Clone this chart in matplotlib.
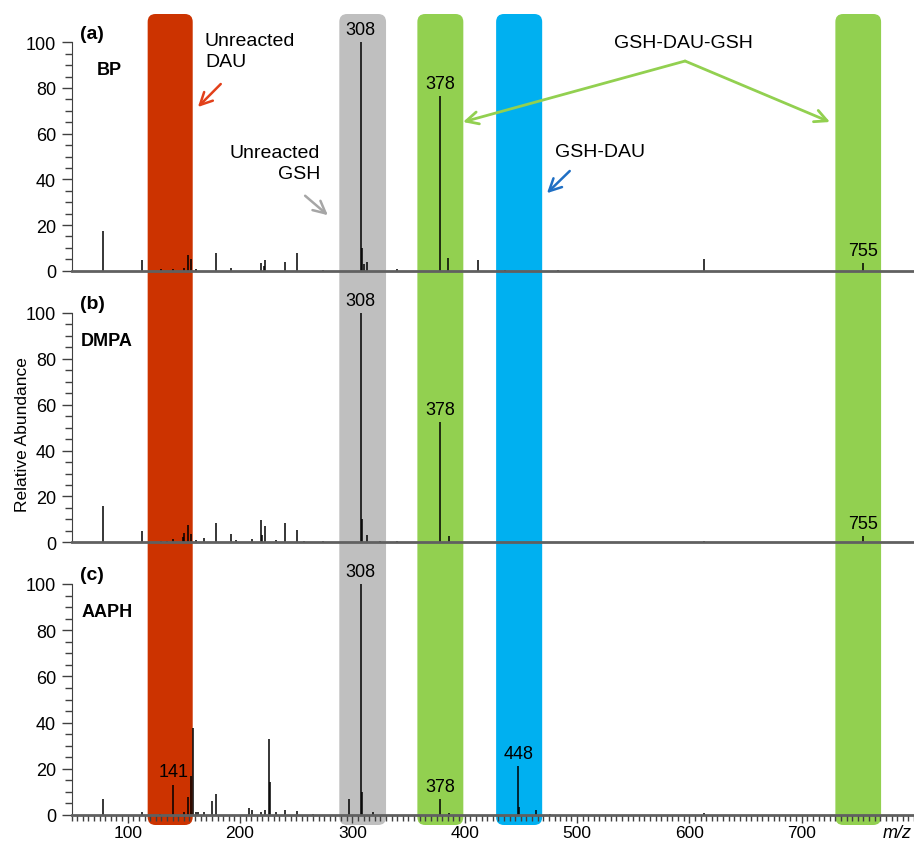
import matplotlib
matplotlib.use("Agg")
import matplotlib.pyplot as plt
from matplotlib.patches import FancyBboxPatch
from matplotlib.ticker import MultipleLocator

plt.rcParams['font.family'] = ['Liberation Sans', 'DejaVu Sans']

# peak lists (m/z, relative abundance)
mz_a = [77.7, 113, 129.6, 140.6, 150, 154, 156, 160.8, 178.4, 192, 218.7, 221, 222.3,
        240, 251, 274, 307.5, 309, 310, 313.4, 339.5, 378.2, 385.5, 411.6, 436, 483, 613, 755]
int_a = [17.5, 4.8, 0.7, 0.7, 1.0, 6.7, 5.3, 0.7, 7.7, 1.0, 3.4, 2.0, 4.8,
         3.9, 7.7, 0.5, 100, 9.8, 3.0, 3.9, 0.7, 76.6, 5.4, 4.7, 0.5, 0.5, 5.0, 3.2]

mz_b = [77.7, 113, 130, 135, 140.6, 149, 150.2, 154, 156, 160.8, 168, 178.4, 192, 196, 211,
        218.7, 220, 222.3, 232, 240, 251, 257, 274, 307.5, 309, 312.8, 324.7, 339.5,
        378.2, 386, 613, 755]
int_b = [15.8, 5.1, 0.5, 0.5, 1.5, 2.3, 4.1, 7.7, 3.6, 1.0, 1.9, 8.2, 3.8, 1.2, 1.5,
         9.9, 3.0, 7.0, 1.0, 8.2, 5.5, 0.7, 0.7, 100, 10.2, 3.0, 0.7, 0.7,
         52.5, 2.6, 0.5, 2.6]

mz_c = [77.7, 113, 128.8, 140.6, 150.2, 153.4, 156, 158, 160.8, 163, 168, 174.8, 178.4,
        208, 210.6, 218.7, 222.3, 225.8, 226.4, 232, 240, 251, 265, 297.4, 307.5, 308.6,
        318.7, 378.3, 386, 447.8, 448.8, 463.3, 476, 613]
int_c = [6.8, 1.2, 0.5, 13.2, 1.5, 8.0, 16.7, 37.5, 1.5, 1.5, 1.5, 6.1, 8.9,
         2.9, 2.0, 1.5, 2.0, 32.9, 14.2, 1.5, 2.2, 1.7, 0.5, 6.9, 100, 10.0,
         1.5, 6.8, 1.0, 21.2, 3.3, 2.2, 0.5, 1.0]

labels_a = ["308", "378", "755"]
label_mz_a = [307.5, 378.2, 755]
labels_b = ["308", "378", "755"]
label_mz_b = [307.5, 378.2, 755]
labels_c = ["141", "308", "378", "448"]
label_mz_c = [140.6, 307.5, 378.3, 447.8]

panel_tags = ["(a)", "(b)", "(c)"]
panel_names = ["BP", "DMPA", "AAPH"]

# highlighted m/z windows
band_lo = [117.8, 288.4, 357.9, 428, 730]
band_hi = [157.9, 330, 398.8, 469, 770.7]
band_colors = ["#CC3300", "#BFBFBF", "#92D050", "#00B0F0", "#92D050"]

W, H = 914, 845
fig = plt.figure(figsize=(W / 100, H / 100), dpi=100)
L = 71.5 / W

# background axes in pixel-height units for the rounded bands
bg = fig.add_axes([L, 0, 1 - L, 1])
bg.set_xlim(50, 800)
bg.set_ylim(0, H)
bg.axis("off")
px_per_unit = (W - 71.5) / 750
for lo, hi, c in zip(band_lo, band_hi, band_colors):
    bg.add_patch(FancyBboxPatch((lo, H - 826), hi - lo, 826 - 15,
                                boxstyle="round,pad=0,rounding_size=7",
                                mutation_aspect=px_per_unit, fc=c, ec="none"))

positions = [(573.3, 228.4), (301.7, 229.3), (29, 231)]
spectra = [(mz_a, int_a, labels_a, label_mz_a),
           (mz_b, int_b, labels_b, label_mz_b),
           (mz_c, int_c, labels_c, label_mz_c)]

axes = []
for i, ((b, h), (mz, inten, labs, lmz)) in enumerate(zip(positions, spectra)):
    ax = fig.add_axes([L, b / H, 1 - L, h / H])
    ax.patch.set_alpha(0)
    ax.vlines(mz, 0, inten, color="black", lw=1.1)
    ax.set_xlim(50, 800)
    ax.set_ylim(0, 100)
    for s in ["top", "right"]:
        ax.spines[s].set_visible(False)
    ax.spines["left"].set_color("#404040")
    ax.spines["bottom"].set_color("#606060")
    ax.spines["bottom"].set_linewidth(2)
    ax.yaxis.set_major_locator(MultipleLocator(20))
    ax.yaxis.set_minor_locator(MultipleLocator(5))
    ax.tick_params(axis="y", which="major", length=7, width=1, color="#404040", labelsize=13, pad=4)
    ax.tick_params(axis="y", which="minor", length=5, width=1, color="#404040")
    if i < 2:
        ax.set_xticks([])
    else:
        ax.xaxis.set_minor_locator(MultipleLocator(5))
        ax.set_xticks([100, 200, 300, 400, 500, 600, 700])
        ax.tick_params(axis="x", which="major", length=6, width=1, color="#404040", labelsize=12.5, pad=1)
        ax.tick_params(axis="x", which="minor", length=4, width=1, color="#404040")
    for t, m in zip(labs, lmz):
        k = min(range(len(mz)), key=lambda j: abs(mz[j] - m))
        ax.annotate(t, (mz[k], inten[k]), xytext=(0, 3), textcoords="offset points",
                    ha="center", va="bottom", fontsize=13)
    ax.text(57.5, 104, panel_tags[i], fontsize=14, fontweight="bold", va="center", ha="left")
    ax.text(72.7 if i == 0 else 58.5, 88, panel_names[i], fontsize=13, fontweight="bold",
            va="center", ha="left")
    axes.append(ax)

ax_a = axes[0]
ax_a.text(168.8, 104.5, "Unreacted\nDAU", fontsize=14, ha="left", va="top", linespacing=1.3)
ax_a.annotate("", xy=(160.8, 70.8), xytext=(184.6, 82.6),
              arrowprops=dict(arrowstyle="->", color="#E2401A", lw=1.8, mutation_scale=22))
ax_a.text(271.3, 55.5, "Unreacted\nGSH", fontsize=14, ha="right", va="top", linespacing=1.3)
ax_a.annotate("", xy=(280.1, 23.5), xytext=(256.1, 33.6),
              arrowprops=dict(arrowstyle="->", color="#A6A6A6", lw=1.8, mutation_scale=22))
ax_a.text(594.4, 100.1, "GSH-DAU-GSH", fontsize=14, ha="center", va="center")
for tx in [398.5, 725.2]:
    ax_a.annotate("", xy=(tx, 65.1), xytext=(596.2, 91.8),
                  arrowprops=dict(arrowstyle="->", color="#92D050", lw=2, mutation_scale=22,
                                  shrinkA=0, shrinkB=0))
ax_a.text(480.4, 52, "GSH-DAU", fontsize=14, ha="left", va="center")
ax_a.annotate("", xy=(471.5, 33.1), xytext=(495.3, 44.5),
              arrowprops=dict(arrowstyle="->", color="#1F6FC4", lw=1.8, mutation_scale=22))

fig.text(23 / W, 1 - 435 / H, "Relative Abundance", rotation=90, fontsize=12.5,
         ha="center", va="center")
fig.text(0.998, 1 - 834 / H, "m/z", fontsize=13, style="italic", ha="right", va="center")

fig.savefig("out.png", dpi=100)
